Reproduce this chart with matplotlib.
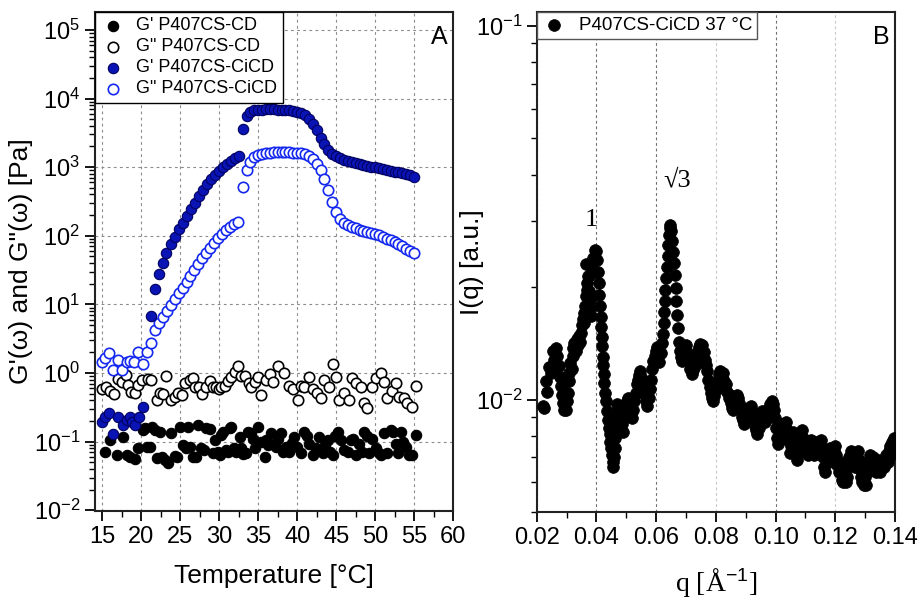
import numpy as np
import matplotlib
matplotlib.use("Agg")
import matplotlib.pyplot as plt
from matplotlib.ticker import LogLocator, MultipleLocator, NullFormatter

plt.rcParams['font.family'] = ['Liberation Sans', 'DejaVu Sans']
plt.rcParams['mathtext.fontset'] = 'custom'
plt.rcParams['mathtext.rm'] = 'Liberation Sans'
plt.rcParams['mathtext.it'] = 'Liberation Sans:italic'

# ---------------- Panel A data ----------------
# G' P407CS-CD (filled black)
T_gp_cd = [15.35, 15.99, 16.9, 17.69, 18.12, 18.6, 19.18, 19.61, 20.2, 20.46, 20.68, 21.1, 21.32, 21.7,
           21.96, 22.38, 22.7, 23.1, 23.4, 23.87, 24.3, 24.6, 24.94, 25.37, 25.7, 26.0, 26.3, 26.64,
           27.06, 27.28, 27.71, 28.1, 28.35, 28.8, 29.2, 29.42, 29.8, 30.05, 30.27, 30.5, 30.91, 31.12,
           31.33, 31.55, 31.9, 32.19, 32.61, 32.83, 33.1, 33.46, 33.68, 34.1, 34.32, 34.6, 34.96, 35.3,
           35.81, 36.02, 36.3, 36.66, 37.08, 37.3, 37.6, 37.93, 38.2, 38.57, 39.0, 39.3, 39.64, 40.0,
           40.49, 40.92, 41.2, 41.55, 41.98, 42.4, 42.83, 43.26, 43.6, 43.9, 44.2, 44.54, 44.9, 45.2,
           45.6, 46.0, 46.46, 46.88, 47.2, 47.52, 47.95, 48.3, 48.59, 48.9, 49.23, 49.65, 50.1, 50.5,
           50.8, 51.15, 51.57, 52.0, 52.3, 52.64, 53.0, 53.28, 53.6, 53.92, 54.3, 54.77, 55.2]
G_gp_cd = [0.071, 0.105, 0.064, 0.118, 0.064, 0.060, 0.055, 0.080, 0.150, 0.156, 0.084, 0.085, 0.165, 0.150,
           0.057, 0.140, 0.060, 0.054, 0.049, 0.133, 0.062, 0.060, 0.165, 0.089, 0.080, 0.165, 0.084, 0.060,
           0.060, 0.175, 0.080, 0.075, 0.156, 0.155, 0.068, 0.105, 0.070, 0.064, 0.125, 0.140, 0.075, 0.070,
           0.156, 0.165, 0.080, 0.071, 0.118, 0.080, 0.066, 0.068, 0.140, 0.133, 0.110, 0.080, 0.165, 0.100,
           0.060, 0.105, 0.090, 0.133, 0.094, 0.084, 0.110, 0.132, 0.070, 0.084, 0.071, 0.095, 0.118, 0.085,
           0.068, 0.140, 0.120, 0.094, 0.064, 0.080, 0.118, 0.068, 0.090, 0.105, 0.070, 0.064, 0.120, 0.140,
           0.105, 0.075, 0.071, 0.105, 0.110, 0.064, 0.094, 0.070, 0.140, 0.120, 0.068, 0.110, 0.080, 0.068,
           0.064, 0.132, 0.068, 0.148, 0.140, 0.094, 0.068, 0.140, 0.100, 0.084, 0.064, 0.064, 0.125]

# G" P407CS-CD (open black)
T_gpp_cd = [14.92, 15.43, 15.99, 16.54, 17.05, 17.57, 17.99, 18.33, 18.67, 19.19, 19.61, 20.04, 20.8, 21.3,
            21.96, 22.38, 22.8, 23.23, 23.87, 24.3, 24.73, 25.24, 25.58, 26.22, 26.64, 26.86, 27.37, 27.8,
            28.35, 28.78, 29.2, 29.63, 29.93, 30.27, 30.7, 31.12, 31.55, 31.97, 32.4, 32.83, 33.34, 33.76,
            34.1, 34.53, 34.96, 35.38, 36.02, 36.45, 36.87, 37.5, 38.36, 39.0, 39.42, 40.06, 40.49, 40.92,
            41.47, 41.98, 42.49, 43.05, 43.47, 44.11, 44.54, 44.97, 45.39, 46.03, 46.59, 47.01, 47.6, 48.16,
            48.59, 49.01, 49.65, 50.17, 50.72, 51.15, 51.57, 52.13, 52.64, 53.06, 53.7, 54.13, 54.68, 55.2]
G_gpp_cd = [0.58, 0.62, 0.55, 0.49, 0.81, 0.75, 0.94, 0.67, 0.53, 0.51, 0.67, 0.79, 0.81, 0.79,
            0.40, 0.51, 0.49, 0.90, 0.40, 0.45, 0.51, 0.48, 0.72, 0.79, 0.84, 0.62, 0.62, 0.49,
            0.63, 0.77, 0.62, 0.62, 0.58, 0.62, 0.65, 0.77, 0.88, 1.04, 1.26, 0.90, 0.90, 0.71,
            0.62, 0.75, 0.87, 0.48, 0.79, 0.97, 0.75, 1.26, 1.01, 0.65, 0.58, 0.40, 0.65, 0.62,
            0.87, 0.58, 0.52, 0.43, 0.79, 0.62, 1.35, 0.87, 0.41, 0.52, 0.41, 0.84, 0.71, 0.62,
            0.36, 0.305, 0.62, 0.84, 0.99, 0.75, 0.44, 0.55, 0.71, 0.45, 0.43, 0.36, 0.315, 0.65]

T_high = [33.0, 33.5, 34.0, 34.5, 35.0, 35.5, 36.0, 36.5, 37.0, 37.5, 38.0, 38.5, 39.0, 39.5, 40.0,
          40.5, 41.0, 41.5, 42.0, 42.5, 43.0, 43.5, 44.0, 44.5, 45.0, 45.5, 46.0, 46.5, 47.0, 47.5,
          48.0, 48.5, 49.0, 49.5, 50.0, 50.5, 51.0, 51.5, 52.0, 52.5, 53.0, 53.5, 54.0, 54.5, 55.0]

# G' P407CS-CiCD (filled blue)
T_gp_ci_low = [15.0, 15.3, 15.8, 16.4, 17.0, 17.6, 18.1, 18.5, 18.8, 19.2, 19.7, 20.2, 21.3, 21.7, 22.3,
               22.8, 23.2, 23.8, 24.3, 24.8, 25.4, 25.9, 26.4, 26.9, 27.4, 27.9, 28.4, 28.9, 29.4, 30.0,
               30.5, 31.0, 31.5, 32.0, 32.5]
G_gp_ci_low = [0.195, 0.23, 0.264, 0.129, 0.23, 0.175, 0.206, 0.23, 0.195, 0.175, 0.23, 0.32, 6.8, 16.9, 27.4,
               40.5, 57, 76, 97, 124, 155, 194, 243, 304, 380, 465, 563, 666, 770, 880,
               996, 1114, 1245, 1350, 1456]
G_gp_ci_high = [3560, 5480, 6400, 6700, 6850, 6900, 6950, 6950, 6950, 6900, 6900, 6850, 6800, 6650, 6450,
                6150, 5700, 5000, 4300, 3450, 2700, 2150, 1800, 1580, 1450, 1360, 1290, 1240, 1190, 1150,
                1110, 1080, 1050, 1020, 990, 960, 935, 910, 885, 860, 840, 815, 790, 765, 730]

# G" P407CS-CiCD (open blue)
T_gpp_ci_low = [14.9, 15.35, 15.85, 16.4, 16.95, 17.5, 18.1, 18.5, 19.05, 19.6, 20.2, 20.7, 21.3, 21.8, 22.3,
                22.8, 23.3, 23.8, 24.3, 24.8, 25.3, 25.8, 26.3, 26.8, 27.3, 27.8, 28.3, 28.8, 29.3, 29.8,
                30.4, 30.9, 31.4, 31.9, 32.4]
G_gpp_ci_low = [1.46, 1.64, 1.94, 1.11, 1.55, 1.11, 1.46, 1.51, 1.43, 2.04, 1.35, 2.0, 2.7, 4.2, 5.3,
                6.5, 8.0, 9.8, 11.8, 14.5, 17.5, 21.5, 26, 32, 39, 48, 57, 67, 79, 92,
                106, 120, 135, 149, 160]
G_gpp_ci_high = [520, 900, 1200, 1400, 1520, 1580, 1610, 1630, 1640, 1640, 1640, 1640, 1640, 1630, 1620,
                 1600, 1560, 1450, 1300, 1100, 900, 680, 460, 310, 220, 175, 155, 142, 135, 128,
                 123, 118, 114, 110, 106, 101, 96, 91, 86, 80, 75, 70, 65, 61, 57]

labels_A = ["G' P407CS-CD", 'G" P407CS-CD', "G' P407CS-CiCD", 'G" P407CS-CiCD']

# ---------------- Panel B data ----------------
q_vals = [0.0222, 0.0226, 0.0231, 0.0236, 0.0242, 0.0248, 0.0254, 0.0259, 0.0265, 0.0268, 0.0272, 0.0276,
          0.0279, 0.0281, 0.0284, 0.0287, 0.0292, 0.0298, 0.0301, 0.0304, 0.0307, 0.0309, 0.0313, 0.0317,
          0.0320, 0.0323, 0.0326, 0.0331, 0.0334, 0.0337, 0.0341, 0.0345, 0.0348, 0.0351, 0.0354, 0.0357,
          0.0360, 0.0363, 0.0365, 0.0366, 0.0367, 0.0369, 0.0371, 0.0374, 0.0377, 0.0378, 0.0380, 0.0382,
          0.0383, 0.0386, 0.0390, 0.0394, 0.0399, 0.0402, 0.0405, 0.0408, 0.0410, 0.0412, 0.0414, 0.0416,
          0.0418, 0.0420, 0.0422, 0.0423, 0.0425, 0.0427, 0.0430, 0.0432, 0.0435, 0.0438, 0.0441, 0.0444,
          0.0447, 0.0450, 0.0453, 0.0455, 0.0457, 0.0459, 0.0461, 0.0463, 0.0466, 0.0468, 0.0470, 0.0472,
          0.0474, 0.0477, 0.0480, 0.0483, 0.0486, 0.0489, 0.0492, 0.0495, 0.0499, 0.0503, 0.0507, 0.0511,
          0.0515, 0.0519, 0.0523, 0.0527, 0.0531, 0.0535, 0.0539, 0.0543, 0.0547, 0.0551, 0.0555, 0.0559,
          0.0563, 0.0567, 0.0571, 0.0575, 0.0579, 0.0583, 0.0587, 0.0591, 0.0595, 0.0599, 0.0603, 0.0607,
          0.0611, 0.0615, 0.0619, 0.0622, 0.0625, 0.0627, 0.0629, 0.0631, 0.0633, 0.0636, 0.0639, 0.0641,
          0.0643, 0.0645, 0.0648, 0.0651, 0.0654, 0.0657, 0.0660, 0.0663, 0.0665, 0.0667, 0.0670, 0.0673,
          0.0676, 0.0679, 0.0683, 0.0687, 0.0691, 0.0695, 0.0699, 0.0703, 0.0707, 0.0711, 0.0715, 0.0719,
          0.0723, 0.0727, 0.0731, 0.0735, 0.0739, 0.0743, 0.0747, 0.0751, 0.0755, 0.0759, 0.0763, 0.0767,
          0.0771, 0.0775, 0.0779, 0.0783, 0.0787, 0.0791, 0.0795, 0.0799, 0.0803, 0.0807, 0.0811, 0.0815,
          0.0819, 0.0823, 0.0827, 0.0831, 0.0835, 0.0839, 0.0843, 0.0847, 0.0851, 0.0855, 0.0859, 0.0863,
          0.0867, 0.0871, 0.0875, 0.0879, 0.0883, 0.0887, 0.0891, 0.0895, 0.0899, 0.0903, 0.0907, 0.0911,
          0.0915, 0.0919, 0.0923, 0.0927, 0.0931, 0.0935, 0.0939, 0.0943, 0.0947, 0.0951, 0.0955, 0.0959,
          0.0963, 0.0967, 0.0971, 0.0975, 0.0979, 0.0983, 0.0987, 0.0991, 0.0995, 0.0999, 0.1002, 0.1005,
          0.1008, 0.1011, 0.1015, 0.1019, 0.1023, 0.1027, 0.1031, 0.1035, 0.1039, 0.1043, 0.1047, 0.1051,
          0.1055, 0.1059, 0.1063, 0.1067, 0.1071, 0.1075, 0.1079, 0.1083, 0.1087, 0.1091, 0.1095, 0.1099,
          0.1103, 0.1107, 0.1111, 0.1115, 0.1119, 0.1123, 0.1127, 0.1131, 0.1135, 0.1139, 0.1143, 0.1147,
          0.1151, 0.1155, 0.1159, 0.1163, 0.1167, 0.1171, 0.1175, 0.1179, 0.1183, 0.1187, 0.1191, 0.1195,
          0.1199, 0.1203, 0.1207, 0.1211, 0.1215, 0.1219, 0.1223, 0.1227, 0.1231, 0.1235, 0.1239, 0.1243,
          0.1247, 0.1251, 0.1255, 0.1259, 0.1263, 0.1267, 0.1271, 0.1275, 0.1279, 0.1283, 0.1287, 0.1291,
          0.1295, 0.1299, 0.1303, 0.1307, 0.1311, 0.1315, 0.1319, 0.1323, 0.1327, 0.1331, 0.1335, 0.1339,
          0.1343, 0.1347, 0.1351, 0.1355, 0.1359, 0.1363, 0.1367, 0.1371, 0.1375, 0.1379, 0.1383, 0.1387,
          0.1391, 0.1395, 0.1399]
I_vals = [0.0096, 0.0095, 0.0112, 0.0105, 0.0122, 0.0118, 0.0135, 0.0128, 0.0137, 0.0131, 0.0124, 0.0123,
          0.0115, 0.0109, 0.0103, 0.0098, 0.0094, 0.0094, 0.0099, 0.0104, 0.0112, 0.0118, 0.0125, 0.0121,
          0.0131, 0.0137, 0.0142, 0.0135, 0.0145, 0.0140, 0.0148, 0.0143, 0.0151, 0.0158, 0.0164, 0.0160,
          0.0170, 0.0178, 0.0189, 0.0230, 0.0197, 0.0205, 0.0214, 0.0195, 0.0185, 0.0215, 0.0175, 0.0232,
          0.0167, 0.0222, 0.0240, 0.0252, 0.0250, 0.0236, 0.0220, 0.0205, 0.0190, 0.0178, 0.0166, 0.0156,
          0.0147, 0.0139, 0.0130, 0.0124, 0.0117, 0.0111, 0.0104, 0.0099, 0.0093, 0.0088, 0.0084, 0.0081,
          0.0077, 0.0074, 0.0071, 0.0068, 0.0066, 0.0070, 0.0074, 0.0079, 0.0085, 0.0091, 0.0097, 0.0094,
          0.0087, 0.0083, 0.0088, 0.0092, 0.0086, 0.0082, 0.0089, 0.0096, 0.0093, 0.0099, 0.0101, 0.0097,
          0.0092, 0.0089, 0.0094, 0.0099, 0.0104, 0.0110, 0.0113, 0.0116, 0.0119, 0.0115, 0.0112, 0.0108,
          0.0103, 0.0099, 0.0096, 0.0101, 0.0107, 0.0113, 0.0121, 0.0127, 0.0131, 0.0135, 0.0138, 0.0132,
          0.0126, 0.0133, 0.0142, 0.0150, 0.0160, 0.0172, 0.0184, 0.0197, 0.0211, 0.0226, 0.0243, 0.0260,
          0.0275, 0.0288, 0.0293, 0.0283, 0.0265, 0.0248, 0.0232, 0.0215, 0.0199, 0.0184, 0.0168, 0.0155,
          0.0143, 0.0135, 0.0130, 0.0127, 0.0133, 0.0138, 0.0140, 0.0134, 0.0130, 0.0126, 0.0121, 0.0117,
          0.0120, 0.0126, 0.0123, 0.0129, 0.0135, 0.0138, 0.0141, 0.0136, 0.0140, 0.0134, 0.0128, 0.0124,
          0.0119, 0.0113, 0.0108, 0.0104, 0.0101, 0.0099, 0.0102, 0.0106, 0.0110, 0.0113, 0.0117, 0.0119,
          0.0115, 0.0118, 0.0112, 0.0107, 0.0110, 0.0105, 0.0101, 0.0103, 0.0098, 0.0095, 0.0094, 0.0097,
          0.0100, 0.0103, 0.0101, 0.0098, 0.0094, 0.0090, 0.0088, 0.0086, 0.0089, 0.0092, 0.0095, 0.0093,
          0.0090, 0.0096, 0.0092, 0.0088, 0.0085, 0.0083, 0.0081, 0.0084, 0.0088, 0.0091, 0.0093, 0.0090,
          0.0087, 0.0092, 0.0094, 0.0091, 0.0094, 0.0097, 0.0099, 0.0097, 0.0094, 0.0089, 0.0084, 0.0079,
          0.0076, 0.0078, 0.0082, 0.0086, 0.0083, 0.0079, 0.0084, 0.0087, 0.0083, 0.0078, 0.0072, 0.0075,
          0.0079, 0.0082, 0.0080, 0.0074, 0.0069, 0.0072, 0.0077, 0.0081, 0.0083, 0.0079, 0.0076, 0.0078,
          0.0074, 0.0071, 0.0073, 0.0076, 0.0078, 0.0075, 0.0071, 0.0074, 0.0077, 0.0075, 0.0072, 0.0076,
          0.0078, 0.0074, 0.0070, 0.0066, 0.0064, 0.0068, 0.0072, 0.0070, 0.0074, 0.0071, 0.0068, 0.0073,
          0.0075, 0.0071, 0.0067, 0.0064, 0.0068, 0.0064, 0.0061, 0.0060, 0.0063, 0.0060, 0.0062, 0.0066,
          0.0070, 0.0073, 0.0069, 0.0072, 0.0069, 0.0066, 0.0070, 0.0073, 0.0069, 0.0065, 0.0062, 0.0060,
          0.0059, 0.0062, 0.0059, 0.0064, 0.0068, 0.0071, 0.0069, 0.0066, 0.0070, 0.0067, 0.0064, 0.0066,
          0.0069, 0.0066, 0.0064, 0.0066, 0.0069, 0.0066, 0.0068, 0.0071, 0.0068, 0.0073, 0.0075, 0.0071,
          0.0077, 0.0079, 0.0075]
label_B = "P407CS-CiCD 37 °C"
peak_labels = ["1", "√3"]
peak_pos_q = [0.0384, 0.0670]
peak_pos_I = [0.0302, 0.0385]

# ---------------- Figure ----------------
fig = plt.figure(figsize=(9.21, 6.02), dpi=100)
axA = fig.add_axes([0.1031, 0.1512, 0.3888, 0.8288])
axB = fig.add_axes([0.5827, 0.1495, 0.3891, 0.8305])

TICK_FS = 17
LABEL_FS = 19
S_A = 56
S_B = 72

blue_fill = '#0a14b4'
blue_edge = '#000060'
blue_open = '#1428f0'

axA.scatter(T_gp_cd, G_gp_cd, s=S_A, c='black', edgecolors='black', linewidths=0.8, zorder=3, label=labels_A[0])
axA.scatter(T_gpp_cd, G_gpp_cd, s=S_A, facecolors='white', edgecolors='black', linewidths=1.2, zorder=3, label=labels_A[1])
axA.scatter(T_gp_ci_low + T_high, G_gp_ci_low + G_gp_ci_high, s=S_A, c=blue_fill, edgecolors=blue_edge,
            linewidths=0.8, zorder=5, label=labels_A[2])
axA.scatter(T_gpp_ci_low + T_high, G_gpp_ci_low + G_gpp_ci_high, s=S_A, facecolors='white',
            edgecolors=blue_open, linewidths=1.2, zorder=4, label=labels_A[3])

axA.set_yscale('log')
axA.set_xlim(14.05, 60)
axA.set_ylim(10 ** -2.01, 10 ** 5.26)
axA.xaxis.set_major_locator(MultipleLocator(5))
axA.xaxis.set_minor_locator(MultipleLocator(2.5))
axA.yaxis.set_major_locator(LogLocator(base=10, numticks=20))
axA.yaxis.set_minor_locator(LogLocator(base=10, subs=np.arange(2, 10), numticks=20))
axA.yaxis.set_minor_formatter(NullFormatter())
axA.grid(True, which='major', color='#8c8c8c', linestyle=(0, (2.5, 3)), linewidth=0.8)
axA.set_axisbelow(True)
axA.set_xlabel('Temperature [°C]', fontsize=LABEL_FS, labelpad=12)
axA.set_ylabel('G\'(ω) and G"(ω) [Pa]', fontsize=LABEL_FS)
axA.yaxis.set_label_coords(-0.172, 0.5)
axA.text(0.985, 0.975, 'A', transform=axA.transAxes, ha='right', va='top', fontsize=18)
legA = axA.legend(loc='upper left', bbox_to_anchor=(0, 1), borderaxespad=0, fontsize=13, frameon=True,
                  fancybox=False, edgecolor='black', framealpha=1, handletextpad=0.6, borderpad=0.3,
                  labelspacing=0.22, handlelength=1.4, scatterpoints=1)
legA.get_frame().set_linewidth(1.0)

axB.scatter(q_vals, I_vals, s=S_B, c='black', edgecolors='black', linewidths=0.5, zorder=3, label=label_B)
axB.set_yscale('log')
axB.set_xlim(0.02, 0.14)
axB.set_ylim(0.005, 0.109)
axB.xaxis.set_major_locator(MultipleLocator(0.02))
axB.xaxis.set_minor_locator(MultipleLocator(0.01))
axB.xaxis.set_major_formatter(matplotlib.ticker.FormatStrFormatter('%.2f'))
axB.yaxis.set_major_locator(LogLocator(base=10, numticks=20))
axB.yaxis.set_minor_locator(LogLocator(base=10, subs=np.arange(2, 10), numticks=20))
axB.yaxis.set_minor_formatter(NullFormatter())
axB.grid(True, axis='x', which='major', color='#707070', linestyle=(0, (2.5, 2.5)), linewidth=0.8)
axB.set_axisbelow(True)
for gl, loc in zip(axB.xaxis.get_gridlines(), axB.get_xticks()):
    if abs(loc - 0.08) < 1e-6 or abs(loc - 0.12) < 1e-6:
        gl.set_color('#c8c8c8')
axB.set_xlabel('q [Å$^{-1}$]', fontsize=LABEL_FS + 1, family=['Liberation Serif', 'DejaVu Serif'], labelpad=13)
axB.set_ylabel('I(q) [a.u.]', fontsize=LABEL_FS)
axB.yaxis.set_label_coords(-0.148, 0.5)
axB.text(0.985, 0.975, 'B', transform=axB.transAxes, ha='right', va='top', fontsize=18)
for lbl, qx, iy in zip(peak_labels, peak_pos_q, peak_pos_I):
    axB.text(qx, iy, lbl, ha='center', va='center', fontsize=19, family=['Liberation Serif', 'DejaVu Serif'])
legB = axB.legend(loc='upper left', bbox_to_anchor=(0, 1), borderaxespad=0, fontsize=13.5, frameon=True,
                  fancybox=False, edgecolor='#555555', framealpha=1, handletextpad=0.6, borderpad=0.25,
                  handlelength=1.4, scatterpoints=1)
legB.get_frame().set_linewidth(1.0)

for ax in (axA, axB):
    for sp in ax.spines.values():
        sp.set_linewidth(1.5)
        sp.set_color('#222222')
    ax.tick_params(axis='both', which='major', direction='out', length=7, width=1.3, labelsize=TICK_FS,
                   top=False, right=False)
    ax.tick_params(axis='both', which='minor', direction='out', length=4, width=1.0, top=False, right=False)

fig.savefig('out.png', dpi=100)
